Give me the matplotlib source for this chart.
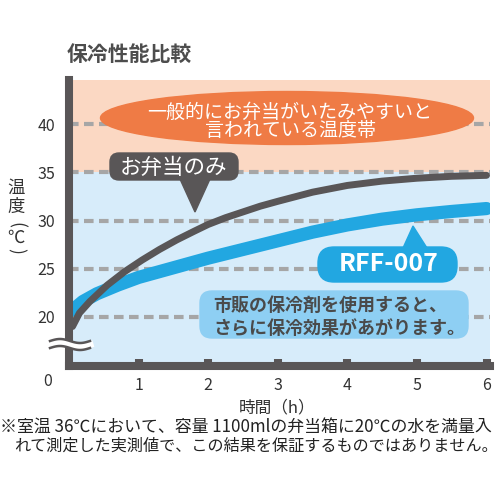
import numpy as np
import matplotlib
matplotlib.use("Agg")
import matplotlib.pyplot as plt
from matplotlib.patches import FancyBboxPatch, Ellipse, Polygon

plt.rcParams["font.family"] = ["Noto Sans CJK JP", "DejaVu Sans"]

# data (hours, deg C)
hours_plain = [0.05, 0.15, 0.3, 0.55, 0.8, 1.05, 1.3, 1.55, 1.8, 2.0, 2.25,
               2.5, 2.75, 3.0, 3.5, 4.0, 4.5, 5.0, 5.5, 6.0]
temp_plain = [19.0, 20.4, 21.6, 23.3, 24.7, 25.9, 27.0, 28.0, 28.9, 29.6, 30.3,
              30.9, 31.5, 32.0, 32.95, 33.65, 34.1, 34.4, 34.6, 34.7]
hours_rff = [0.05, 0.2, 0.4, 0.7, 1.0, 1.5, 2.0, 2.5, 3.0, 3.5, 4.0,
             4.5, 5.0, 5.5, 6.0]
temp_rff = [20.7, 21.6, 22.4, 23.3, 24.1, 25.1, 26.1, 27.0, 27.9, 28.8, 29.55,
            30.15, 30.6, 30.95, 31.25]
y_ticks = [20, 25, 30, 35, 40]
x_ticks = [1, 2, 3, 4, 5, 6]
danger_from = 35
y_min, y_max = 14.9, 44.6
x_min, x_max = 0, 6.05

DARK = "#595657"
BLUE = "#22a7e1"
ORANGE = "#ef7b45"
ORANGE_BG = "#fbd8c3"
BLUE_BG = "#d7ecfa"
NOTE_BG = "#8ecff3"
GRID = "#a6a6a6"
TEXT = "#333333"


def fx(px):
    return px / 500


def fy(py):
    return 1 - py / 500


fig = plt.figure(figsize=(5, 5), dpi=100)
ax = fig.add_axes([fx(69), fy(366), fx(490 - 69), (366 - 80) / 500])
ax.set_xlim(x_min, x_max)
ax.set_ylim(y_min, y_max)
ax.set_facecolor(BLUE_BG)
ax.axhspan(danger_from, y_max, color=ORANGE_BG, lw=0, zorder=0)

for v in y_ticks:
    ax.axhline(v, color=GRID, lw=3, ls=(0, (2.3, 1.3)), zorder=1)

ax.plot(hours_rff, temp_rff, color=BLUE, lw=9.5, solid_capstyle="round",
        solid_joinstyle="round", zorder=2)
ax.plot(hours_plain, temp_plain, color=DARK, lw=5, solid_capstyle="round",
        solid_joinstyle="round", zorder=2.1)

for s in ["top", "right"]:
    ax.spines[s].set_visible(False)
for s in ["left", "bottom"]:
    ax.spines[s].set_color(DARK)
    ax.spines[s].set_linewidth(5.8)
    ax.spines[s].set_capstyle("projecting")

ax.set_xticks(x_ticks)
ax.set_xticks([x_ticks[-1]], minor=True)
ax.tick_params(axis="x", which="major", direction="in", length=5, width=5.8,
               color=DARK, pad=8, labelsize=11.5, labelcolor=TEXT)
ax.tick_params(axis="x", which="minor", direction="in", length=8.5, width=5.8,
               color=DARK)
ax.set_yticks(y_ticks)
ax.tick_params(axis="y", length=0, pad=10, labelsize=11.5, labelcolor=TEXT)

fig.text(fx(48), fy(381), "0", ha="center", va="center", fontsize=11.5, color=TEXT)

# axis break marks on the left spine
bx = np.linspace(50, 90, 60)
wave = 2.0 * np.sin(2 * np.pi * (bx - 50) / 40)
fig.add_artist(plt.Line2D(fx(bx), fy(344.5 - wave), color="white", lw=5,
                          transform=fig.transFigure, zorder=5))
for off in (-3.5, 3.5):
    fig.add_artist(plt.Line2D(fx(bx), fy(344.5 + off - wave), color=DARK, lw=1.8,
                              transform=fig.transFigure, zorder=5))

# title and axis labels
fig.text(fx(67), fy(54), "保冷性能比較", ha="left", va="center", fontsize=15,
         fontweight="bold", color="#4d4d4d")
for ch, py, rot in [("温", 188, 0), ("度", 207, 0), ("(", 225, -90),
                    ("℃", 238, 0), (")", 251, -90)]:
    fig.text(fx(16), fy(py), ch, ha="center", va="center", fontsize=12.5,
             rotation=rot, color=TEXT)
fig.text(fx(277), fy(408), "時間（h）", ha="center", va="center", fontsize=12,
         color=TEXT)

# danger-zone ellipse
fig.add_artist(Ellipse((fx(287), fy(118)), 373 / 500, 53 / 500, color=ORANGE,
                       transform=fig.transFigure, zorder=3))
fig.text(fx(290), fy(112), "一般的にお弁当がいたみやすいと", ha="center", va="center",
         fontsize=13.7, color="white", zorder=4)
fig.text(fx(291), fy(131), "言われている温度帯", ha="center", va="center",
         fontsize=13.7, color="white", zorder=4)

# "お弁当のみ" callout
fig.add_artist(FancyBboxPatch((fx(110), fy(180)), 128 / 500, 27 / 500,
                              boxstyle="round,pad=0,rounding_size=0.018",
                              color=DARK, transform=fig.transFigure, zorder=3))
fig.add_artist(Polygon([(fx(180), fy(179)), (fx(210), fy(179)), (fx(195), fy(212))],
                       color=DARK, transform=fig.transFigure, zorder=3))
fig.text(fx(174), fy(168), "お弁当のみ", ha="center", va="center", fontsize=15.5,
         color="white", zorder=4)

# RFF-007 callout
fig.add_artist(FancyBboxPatch((fx(318), fy(282)), 139 / 500, 35 / 500,
                              boxstyle="round,pad=0,rounding_size=0.032",
                              color=BLUE, transform=fig.transFigure, zorder=3))
fig.add_artist(Polygon([(fx(403), fy(248)), (fx(427), fy(248)), (fx(413), fy(226))],
                       color=BLUE, transform=fig.transFigure, zorder=3))
fig.text(fx(389), fy(264), "RFF-007", ha="center", va="center", fontsize=18,
         fontweight="bold", color="white", zorder=4)

# note box
fig.add_artist(FancyBboxPatch((fx(200), fy(338)), 268 / 500, 47 / 500,
                              boxstyle="round,pad=0,rounding_size=0.024",
                              color=NOTE_BG, transform=fig.transFigure, zorder=3))
fig.text(fx(213), fy(305), "市販の保冷剤を使用すると、", ha="left", va="center",
         fontsize=13, fontweight="bold", color="#4a4a4a", zorder=4)
fig.text(fx(213), fy(328), "さらに保冷効果があがります。", ha="left", va="center",
         fontsize=13, fontweight="bold", color="#4a4a4a", zorder=4)

# footnote
fig.text(fx(0), fy(427), "※室温 36℃において、容量 1100mlの弁当箱に20℃の水を満量入",
         ha="left", va="center", fontsize=12.2, color="#222222")
fig.text(fx(14), fy(446), "れて測定した実測値で、この結果を保証するものではありません。",
         ha="left", va="center", fontsize=11.6, color="#222222")

fig.savefig("out.png", dpi=100)
